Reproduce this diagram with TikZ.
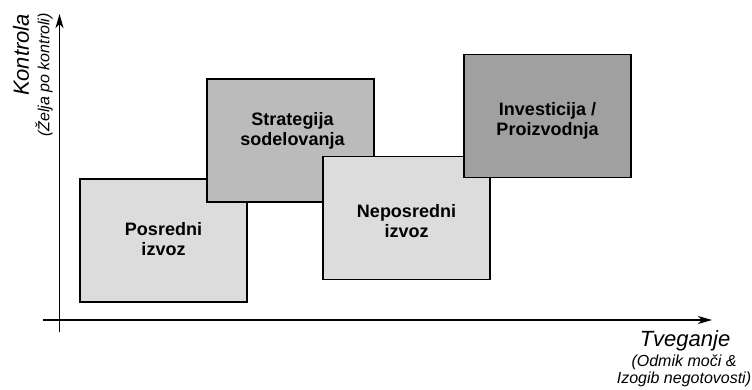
\documentclass[tikz,border=0pt]{standalone}
\usepackage{fontspec}
\setmainfont{Liberation Sans}
\usetikzlibrary{positioning,calc,arrows.meta}
\definecolor{lightfill}{HTML}{DCDCDC}
\definecolor{midfill}{HTML}{BBBBBB}
\definecolor{darkfill}{HTML}{A0A0A0}
\tikzstyle{field}=[rectangle,draw=black,line width=1.4pt,minimum width=167pt,minimum height=123pt,inner sep=0pt]
\tikzstyle{fieldtext}=[align=center,font=\fontsize{18}{20}\selectfont\bfseries,inner sep=0pt]
\tikzstyle{axis}=[line width=1.3pt,-{Stealth[length=14pt,width=8pt,inset=4pt]}]

\begin{document}
\begin{tikzpicture}[x=1pt,y=-1pt]
  \useasboundingbox (0, 0) rectangle (752, 390);

  \coordinate (ystart) at (59.5, 332);
  \coordinate (yend)   at (59.5, 14);
  \coordinate (xstart) at (42.7, 320);
  \coordinate (xend)   at (712, 320);

  \draw [axis] (ystart) to (yend);
  \draw [axis] (xstart) to (xend);

  \node [field, fill=lightfill] at (163.5, 240.5) (posr) {};
  \node [field, fill=midfill]   at (290.5, 140.5) (strat) {};
  \node [field, fill=lightfill] at (406.5, 218)   (nepo) {};
  \node [field, fill=darkfill]  at (547.5, 116)   (inv) {};

  \node [fieldtext] at ($(posr)  + (0, -1)$)  (posr_t)  {Posredni\\izvoz};
  \node [fieldtext] at ($(strat) + (2, -10)$) (strat_t) {Strategija\\sodelovanja};
  \node [fieldtext] at ($(nepo)  + (0, 3)$)   (nepo_t)  {Neposredni\\izvoz};
  \node [fieldtext] at ($(inv)   + (0, 5)$)   (inv_t)   {Investicija /\\Proizvodnja};

  \node [rotate=90, inner sep=0pt, font=\fontsize{22}{24}\selectfont\itshape]   at (21, 55)   (ylabel) {Kontrola};
  \node [rotate=90, inner sep=0pt, font=\fontsize{16}{17}\selectfont\itshape] at (44, 75)   (ysub)   {(Želja po kontroli)};
  \node [inner sep=0pt, font=\fontsize{22}{24}\selectfont\itshape]              at (685, 341) (xlabel) {Tveganje};
  \node [inner sep=0pt, align=center, font=\fontsize{16}{17}\selectfont\itshape] at (684, 371) (xsub) {(Odmik moči \&\\Izogib negotovosti)};
\end{tikzpicture}
\end{document}
